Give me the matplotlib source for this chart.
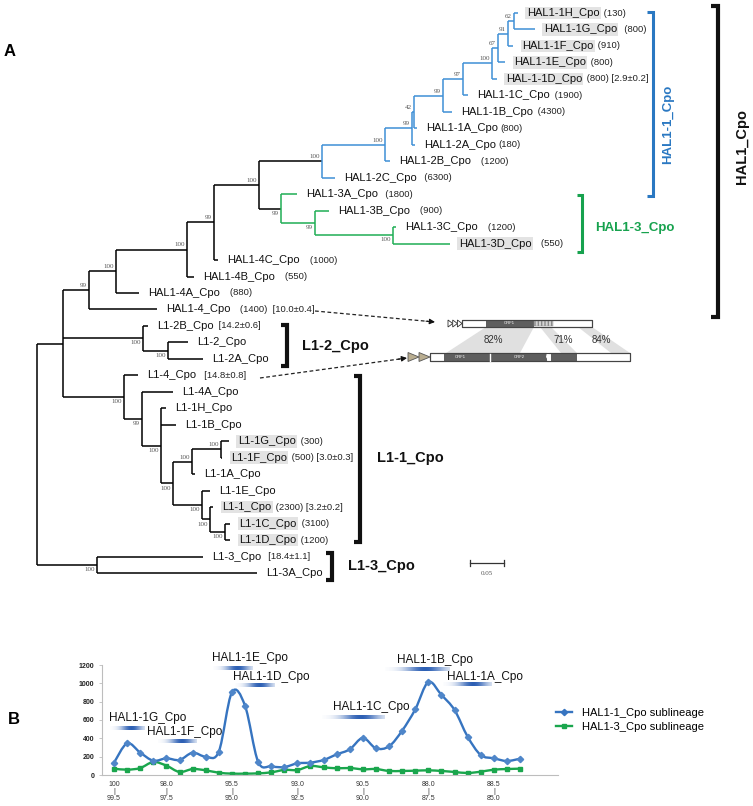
import numpy as np
import matplotlib
matplotlib.use('Agg')
import matplotlib.pyplot as plt
from matplotlib.path import Path
from matplotlib.patches import PathPatch, Rectangle, Polygon
from matplotlib.lines import Line2D

plt.rcParams['font.family'] = ['Liberation Sans', 'DejaVu Sans']

W, H = 753, 806

# ---------------- Panel A: tree data ----------------
leaf_names = ['HAL1-1H_Cpo', 'HAL1-1G_Cpo', 'HAL1-1F_Cpo', 'HAL1-1E_Cpo', 'HAL-1-1D_Cpo',
              'HAL1-1C_Cpo', 'HAL1-1B_Cpo', 'HAL1-1A_Cpo', 'HAL1-2A_Cpo', 'HAL1-2B_Cpo',
              'HAL1-2C_Cpo', 'HAL1-3A_Cpo', 'HAL1-3B_Cpo', 'HAL1-3C_Cpo', 'HAL1-3D_Cpo',
              'HAL1-4C_Cpo', 'HAL1-4B_Cpo', 'HAL1-4A_Cpo', 'HAL1-4_Cpo',
              'L1-2B_Cpo', 'L1-2_Cpo', 'L1-2A_Cpo', 'L1-4_Cpo', 'L1-4A_Cpo',
              'L1-1H_Cpo', 'L1-1B_Cpo', 'L1-1G_Cpo', 'L1-1F_Cpo', 'L1-1A_Cpo',
              'L1-1E_Cpo', 'L1-1_Cpo', 'L1-1C_Cpo', 'L1-1D_Cpo', 'L1-3_Cpo', 'L1-3A_Cpo']
leaf_copies = [' (130)', '  (800)', ' (910)', ' (800)', ' (800)', ' (1900)', ' (4300)', '(800)', '(180)',
               '   (1200)', '  (6300)', '  (1800)', '   (900)', '   (1200)', '   (550)',
               '   (1000)', '   (550)', '   (880)', '   (1400)',
               '', '', '', '', '', '', '', ' (300)', ' (500)', '', '', ' (2300)', ' (3100)', ' (1200)', '', '']
leaf_ages = ['', '', '', '', ' [2.9±0.2]', '', '', '', '', '', '', '', '', '', '', '', '', '',
             '  [10.0±0.4]', ' [14.2±0.6]', '', '', '  [14.8±0.8]', '', '', '', '', ' [3.0±0.3]', '',
             '', ' [3.2±0.2]', '', '', '  [18.4±1.1]', '']
leaf_tip = [0.707, 0.732, 0.700, 0.688, 0.676, 0.634, 0.610, 0.559, 0.556, 0.519,
            0.438, 0.382, 0.429, 0.528, 0.607, 0.266, 0.231, 0.150, 0.176,
            0.163, 0.222, 0.244, 0.149, 0.200, 0.190, 0.204, 0.282, 0.272, 0.232,
            0.254, 0.259, 0.284, 0.284, 0.244, 0.324]
leaf_highlight = [1, 1, 1, 1, 1, 0, 0, 0, 0, 0, 0, 0, 0, 0, 1, 0, 0, 0, 0,
                  0, 0, 0, 0, 0, 0, 0, 1, 1, 0, 0, 1, 1, 1, 0, 0]

# node: (depth, bootstrap, label side, children)
nodes = {
    'root': (0.000, '', 'a', ['n63', 'nL13']),
    'n63': (0.038, '', 'a', ['n89', 'n143', 'n124']),
    'n89': (0.0765, '99', 'a', ['n116', 18]),
    'n116': (0.116, '100', 'a', ['n187', 17]),
    'n187': (0.221, '100', 'a', ['n214', 16]),
    'n214': (0.260, '99', 'a', ['n259', 15]),
    'n259': (0.326, '100', 'a', ['nA', 'nG1']),
    'nA': (0.419, '100', 'a', ['nB', 10]),
    'nB': (0.512, '100', 'a', ['nC', 9]),
    'nC': (0.551, '99', 'a', ['nD', 8]),
    'nD': (0.554, '42', 'a', ['nE', 7]),
    'nE': (0.597, '99', 'a', ['nF', 6]),
    'nF': (0.626, '97', 'a', ['nG', 5]),
    'nG': (0.669, '100', 'a', ['nH', 4]),
    'nH': (0.678, '67', 'a', ['nI', 3]),
    'nI': (0.693, '91', 'a', ['nJ', 2]),
    'nJ': (0.701, '62', 'a', [0, 1]),
    'nG1': (0.359, '99', 'b', [11, 'nG2']),
    'nG2': (0.409, '99', 'b', [12, 'nG3']),
    'nG3': (0.524, '100', 'b', [13, 14]),
    'n143': (0.156, '100', 'b', [19, 'n168']),
    'n168': (0.193, '100', 'b', [20, 21]),
    'n124': (0.128, '100', 'b', [22, 'n142']),
    'n142': (0.154, '99', 'b', [23, 'n161']),
    'n161': (0.182, '100', 'b', [24, 25, 'n173']),
    'n173': (0.200, '100', 'b', ['n192', 'nK']),
    'n192': (0.228, '100', 'a', ['n221', 28]),
    'n221': (0.271, '100', 'a', [26, 27]),
    'nK': (0.243, '100', 'b', [29, 'nL']),
    'nL': (0.254, '100', 'b', [30, 'nM']),
    'nM': (0.276, '100', 'b', [31, 32]),
    'nL13': (0.088, '100', 'b', [33, 34]),
}
clade_colors = {'nA': '#3f8fd6', 'nG1': '#1fae55'}

# ---------------- Panel B: line chart data ----------------
hal1_1 = [135, 345, 244, 156, 182, 164, 244, 200, 255, 902, 756, 145, 95, 87, 127, 135,
          164, 225, 280, 404, 291, 313, 484, 716, 1014, 873, 709, 418, 218, 182, 153, 178]
hal1_3 = [69, 58, 76, 142, 102, 33, 65, 51, 25, 15, 15, 18, 29, 55, 55, 98,
          84, 73, 76, 62, 65, 44, 44, 47, 51, 44, 33, 22, 36, 58, 65, 69]
tick_pos = [0, 4, 9, 14, 19, 24, 29]
tick_top = ['100', '98.0', '95.5', '93.0', '90.5', '88.0', '88.5']
tick_bottom = ['99.5', '97.5', '95.0', '92.5', '90.0', '87.5', '85.0']
series_names = ['HAL1-1_Cpo sublineage', 'HAL1-3_Cpo sublineage']
peak_labels = ['HAL1-1G_Cpo', 'HAL1-1F_Cpo', 'HAL1-1E_Cpo', 'HAL1-1D_Cpo',
               'HAL1-1C_Cpo', 'HAL1-1B_Cpo', 'HAL1-1A_Cpo']

# ---------------- figure ----------------
fig = plt.figure(figsize=(W / 100, H / 100), dpi=100)

# overlay axes in pixel coordinates for decorations
ax_o = fig.add_axes([0, 0, 1, 1])
ax_o.set_xlim(0, W)
ax_o.set_ylim(H, 0)
ax_o.axis('off')

# tree axes: x = substitutions/site, y = leaf index
PX_PER_UNIT = 680.0
ROOT_PX = 37.0
Y0_PX, DY_PX = 13.0, 16.47
ax_t = fig.add_axes([0, 0, 1, 1])
ax_t.set_xlim(-ROOT_PX / PX_PER_UNIT, (W - ROOT_PX) / PX_PER_UNIT)
ax_t.set_ylim((H - Y0_PX) / DY_PX, -Y0_PX / DY_PX)
ax_t.axis('off')

ypos = {}


def layout(nid):
    kids = nodes[nid][3]
    ys = []
    for c in kids:
        if isinstance(c, int):
            ys.append(float(c))
        else:
            ys.append(layout(c))
    ypos[nid] = (ys[0] + ys[-1]) / 2.0
    return ypos[nid]


layout('root')
LW = 1.1


def draw(nid, color):
    depth, boot, side, kids = nodes[nid]
    col = clade_colors.get(nid, color)
    kid_y = [float(c) if isinstance(c, int) else ypos[c] for c in kids]
    ax_t.plot([depth, depth], [kid_y[0], kid_y[-1]], color=col, lw=LW, solid_capstyle='butt')
    for c, cy in zip(kids, kid_y):
        end = leaf_tip[c] if isinstance(c, int) else nodes[c][0]
        ax_t.plot([depth, end], [cy, cy], color=col, lw=LW, solid_capstyle='butt')
        if not isinstance(c, int):
            draw(c, col)
    if boot:
        dy = 1.5 if side == 'a' else -1.5
        ax_t.annotate(boot, (depth, ypos[nid]), xytext=(-1.5, dy), textcoords='offset points',
                      ha='right', va='bottom' if side == 'a' else 'top', fontsize=5,
                      family=['Liberation Serif', 'DejaVu Serif'], color='#555555')


draw('root', 'black')

for i, name in enumerate(leaf_names):
    kw = {}
    if leaf_highlight[i]:
        kw['bbox'] = dict(boxstyle='square,pad=0.12', fc='#e3e3e3', ec='none')
    t = ax_t.annotate(name, (leaf_tip[i], i), xytext=(6.5, 0), textcoords='offset points',
                      ha='left', va='center', fontsize=8, color='#111111', **kw)
    suffix = leaf_copies[i] + leaf_ages[i]
    if suffix:
        ax_t.annotate(suffix, xy=(1, 0.5), xycoords=t, xytext=(1.5, 0), textcoords='offset points',
                      ha='left', va='center', fontsize=6.8, color='#222222',
                      family=['Liberation Sans Narrow', 'Liberation Sans', 'DejaVu Sans'])

# ---------------- decorations (pixel coords) ----------------
ax_o.text(10, 52, 'A', fontsize=12, fontweight='bold', ha='center', va='center')
ax_o.text(14, 720, 'B', fontsize=12, fontweight='bold', ha='center', va='center')


def bracket(x, y0, y1, tick, color, lw):
    ax_o.plot([x - tick, x, x, x - tick], [y0, y0, y1, y1], color=color, lw=lw,
              solid_joinstyle='miter', solid_capstyle='butt')


blue_b, green_b = '#2a78c2', '#17a24e'
bracket(653, 12, 196, 6, blue_b, 2.2)
ax_o.text(668, 124, 'HAL1-1_Cpo', rotation=90, color=blue_b, fontsize=9.5, fontweight='bold',
          ha='center', va='center')
bracket(582, 195, 252, 5, green_b, 2.2)
ax_o.text(595, 228, 'HAL1-3_Cpo', color=green_b, fontsize=9.5, fontweight='bold', ha='left', va='center')
bracket(718, 6, 317, 7, '#111111', 3.0)
ax_o.text(742, 147, 'HAL1_Cpo', rotation=90, color='#111111', fontsize=10.5, fontweight='bold',
          ha='center', va='center')
bracket(287, 325, 366, 6, '#111111', 3.0)
ax_o.text(302, 346, 'L1-2_Cpo', color='#111111', fontsize=10.5, fontweight='bold', ha='left', va='center')
bracket(360, 376, 542, 6, '#111111', 3.0)
ax_o.text(377, 458, 'L1-1_Cpo', color='#111111', fontsize=10.5, fontweight='bold', ha='left', va='center')
bracket(332, 553, 580, 6, '#111111', 3.0)
ax_o.text(348, 566, 'L1-3_Cpo', color='#111111', fontsize=10.5, fontweight='bold', ha='left', va='center')

# scale bar
ax_o.plot([470, 504], [563, 563], color='#333333', lw=0.9)
ax_o.plot([470, 470], [560, 566], color='#333333', lw=0.9)
ax_o.plot([504, 504], [560, 566], color='#333333', lw=0.9)
ax_o.text(487, 571, '0.05', fontsize=5, ha='center', va='top', color='#555555',
          family=['Liberation Serif', 'DejaVu Serif'])

# dashed arrows
for (x0, y0, x1, y1) in [(315, 311, 435, 322), (260, 378, 407, 358)]:
    ux, uy = (x1 - x0) / np.hypot(x1 - x0, y1 - y0), (y1 - y0) / np.hypot(x1 - x0, y1 - y0)
    ax_o.plot([x0, x1 - 7 * ux], [y0, y1 - 7 * uy], color='#222222', lw=0.9, ls=(0, (3, 2)))
    ax_o.annotate('', xy=(x1, y1), xytext=(x1 - 9 * ux, y1 - 9 * uy),
                  arrowprops=dict(arrowstyle='-|>', color='#111111', lw=0.8, mutation_scale=8,
                                  shrinkA=0, shrinkB=0))

# genome schematics
shade = '#d3d3d3'
for poly in [[(486, 327), (534, 327), (520, 353), (446, 353)],
             [(540, 327), (551, 327), (577, 353), (561, 353)],
             [(578, 327), (592, 327), (630, 353), (611, 353)]]:
    ax_o.add_patch(Polygon(poly, closed=True, fc=shade, ec='none', alpha=0.7))
for px, lab in [(493, '82%'), (563, '71%'), (601, '84%')]:
    ax_o.text(px, 340, lab, fontsize=7, ha='center', va='center', color='#333333')

# top element
for k in range(3):
    xs = 448 + 4.7 * k
    ax_o.add_patch(Polygon([(xs, 320), (xs + 4.7, 323.5), (xs, 327)], closed=True,
                           fc='white', ec='#333333', lw=0.6))
ax_o.add_patch(Rectangle((462, 320), 130, 7, fc='white', ec='#444444', lw=0.8))
ax_o.add_patch(Rectangle((486, 320), 48, 7, fc='#5e5e5e', ec='none'))
ax_o.add_patch(Rectangle((534, 320.8), 19, 5.4, fc='#d5d5d5', ec='#8a8a8a', lw=0.3, hatch='|||||'))
ax_o.add_patch(Rectangle((462, 320), 130, 7, fc='none', ec='#444444', lw=0.8))
ax_o.text(509, 323.5, 'ORF1', fontsize=3, color='white', ha='center', va='center')

# bottom element
for k in range(2):
    xs = 408 + 11 * k
    ax_o.add_patch(Polygon([(xs, 352.5), (xs + 11, 357), (xs, 361.5)], closed=True,
                           fc='#b9ad90', ec='#555555', lw=0.6))
ax_o.add_patch(Rectangle((430, 353), 200, 8, fc='white', ec='#444444', lw=0.8))
ax_o.add_patch(Rectangle((444, 353), 103, 8, fc='#5e5e5e', ec='none'))
ax_o.add_patch(Rectangle((551, 353), 26, 8, fc='#5e5e5e', ec='none'))
ax_o.plot([490, 490], [353.5, 360.5], color='white', lw=1.0)
ax_o.add_patch(Polygon([(547, 352), (550, 352), (548, 357), (552, 362), (549, 362), (546, 357)],
                       closed=True, fc='white', ec='none'))
ax_o.add_patch(Rectangle((430, 353), 200, 8, fc='none', ec='#444444', lw=0.8))
ax_o.text(460, 357, 'ORF1', fontsize=3, color='white', ha='center', va='center')
ax_o.text(519, 357, 'ORF2', fontsize=3, color='white', ha='center', va='center')

# ---------------- Panel B ----------------
ax_c = fig.add_axes([102 / W, 1 - 775 / H, 456 / W, 110 / H])
x = np.arange(len(hal1_1))
ax_c.set_xlim(-0.92, 33.9)
ax_c.set_ylim(0, 1200)


def smooth_path(xv, yv):
    pts = np.column_stack([xv, yv]).astype(float)
    n = len(pts)
    verts = [pts[0]]
    codes = [Path.MOVETO]
    for i in range(n - 1):
        p0 = pts[i - 1] if i > 0 else pts[i]
        p1, p2 = pts[i], pts[i + 1]
        p3 = pts[i + 2] if i + 2 < n else pts[i + 1]
        verts += [p1 + (p2 - p0) / 6.0, p2 - (p3 - p1) / 6.0, p2]
        codes += [Path.CURVE4] * 3
    return Path(verts, codes)


c_blue, c_green = '#3674c0', '#1aa64d'
ax_c.add_patch(PathPatch(smooth_path(x, hal1_3), fc='none', ec=c_green, lw=1.7))
ax_c.add_patch(PathPatch(smooth_path(x, hal1_1), fc='none', ec=c_blue, lw=1.7))
ax_c.plot(x, hal1_3, ls='none', marker='s', ms=3.3, color=c_green)
ax_c.plot(x, hal1_1, ls='none', marker='D', ms=3.2, color='#4f86c9')

for s in ['top', 'right']:
    ax_c.spines[s].set_visible(False)
for s in ['left', 'bottom']:
    ax_c.spines[s].set_color('#bdbdbd')
    ax_c.spines[s].set_linewidth(0.8)
ax_c.set_yticks(np.arange(0, 1201, 200))
ax_c.tick_params(axis='y', length=2.5, width=0.6, color='#bdbdbd', labelsize=5, pad=3,
                 labelcolor='#222222')
for lbl in ax_c.get_yticklabels():
    lbl.set_fontweight('bold')
ax_c.set_xticks(tick_pos)
ax_c.set_xticklabels([f'{a}\n|\n{b}' for a, b in zip(tick_top, tick_bottom)])
ax_c.tick_params(axis='x', length=0, labelsize=5, pad=4, labelcolor='#333333')
for lbl in ax_c.get_xticklabels():
    lbl.set_linespacing(1.05)
ax_c.patch.set_alpha(0)

handles = [Line2D([], [], color=c_blue, lw=1.7, marker='D', ms=3.2),
           Line2D([], [], color=c_green, lw=1.7, marker='s', ms=3.3)]
ax_c.legend(handles, series_names, loc='upper left', bbox_to_anchor=(556 / W, 1 - 708 / H),
            bbox_transform=fig.transFigure, frameon=False, fontsize=8, handlelength=1.4,
            handletextpad=0.9, labelspacing=0.35, borderpad=0, borderaxespad=0)

# peak labels with gradient underline bars
label_pos = [(109, 718), (147, 732), (212, 658), (233, 677), (333, 707), (397, 660), (447, 677)]
bar_pos = [(110, 145, 728), (158, 197, 741), (213, 253, 668), (235, 275, 685),
           (322, 385, 717), (385, 450, 669), (443, 492, 684)]
tt = np.linspace(0, 1, 80)
alpha = np.exp(-((tt - 0.62) / 0.3) ** 2)
grad = np.zeros((1, len(tt), 4))
grad[0, :, 0:3] = matplotlib.colors.to_rgb('#2c5fb4')
grad[0, :, 3] = alpha
for txt, (lx, ly), (bx0, bx1, by) in zip(peak_labels, label_pos, bar_pos):
    ax_o.imshow(grad, extent=(bx0, bx1, by + 2, by - 2), aspect='auto', interpolation='bilinear',
                zorder=3)
    ax_o.text(lx, ly, txt, fontsize=8.5, ha='left', va='center', color='#111111', zorder=4)

ax_o.set_xlim(0, W)
ax_o.set_ylim(H, 0)
ax_o.set_aspect('auto')

fig.savefig('out.png', dpi=100)
